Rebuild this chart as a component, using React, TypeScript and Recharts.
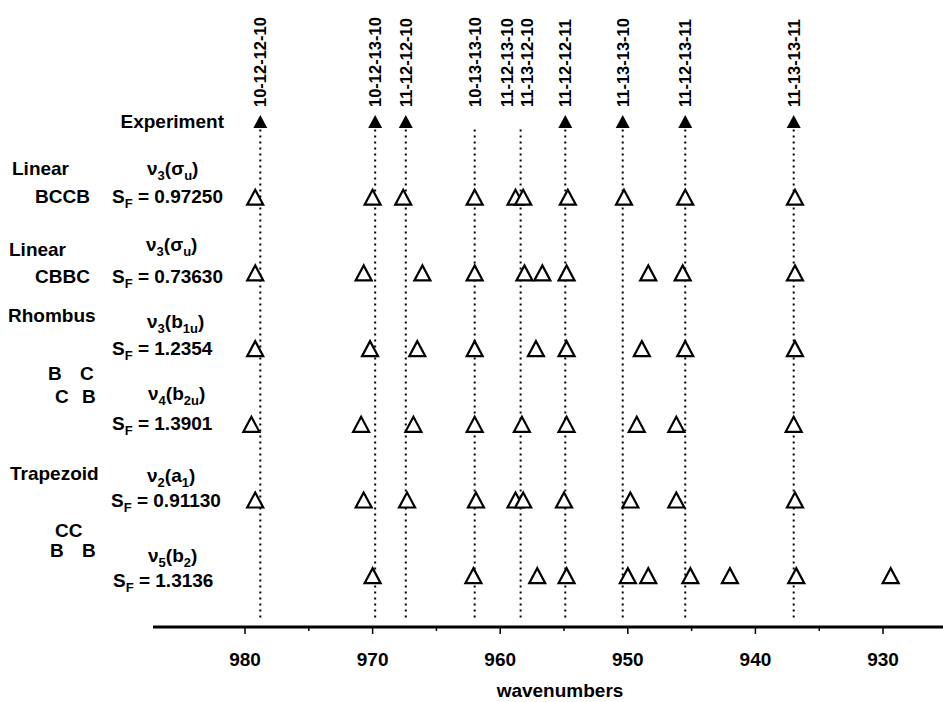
import { ReferenceLine, Scatter, ScatterChart, XAxis, YAxis } from "recharts";

const FONT = '"Liberation Sans", Arial, sans-serif';

// experiment assignments (top row)
const expLabels = [
  "10-12-12-10",
  "10-12-13-10",
  "11-12-12-10",
  "10-13-13-10",
  "11-12-13-10",
  "11-13-12-10",
  "11-12-12-11",
  "11-13-13-10",
  "11-12-13-11",
  "11-13-13-11",
];
const expWavenumbers = [978.8, 969.8, 967.4, 962.0, 959.5, 957.9, 954.9, 950.4, 945.5, 937.0];
const expObserved = [true, true, true, false, false, false, true, true, true, true];
const dottedWavenumbers = [978.8, 969.8, 967.4, 962.0, 958.4, 954.9, 950.4, 945.5, 937.0];

// calculated frequencies, one list per model
const bccbWn = [979.2, 970.0, 967.6, 962.0, 958.8, 958.2, 954.7, 950.3, 945.5, 936.9];
const cbbcWn = [979.2, 970.7, 966.1, 962.0, 958.1, 956.7, 954.8, 948.4, 945.7, 936.9];
const rhombusB1uWn = [979.2, 970.2, 966.5, 962.0, 957.2, 954.8, 948.9, 945.5, 936.9];
const rhombusB2uWn = [979.5, 970.9, 966.8, 962.0, 958.3, 954.8, 949.3, 946.2, 937.0];
const trapezoidA1Wn = [979.2, 970.7, 967.3, 961.9, 958.8, 958.2, 955.0, 949.8, 946.2, 936.9];
const trapezoidB2Wn = [970.0, 962.1, 957.1, 954.8, 950.0, 948.4, 945.1, 942.0, 936.8, 929.4];

const calcRows = [bccbWn, cbbcWn, rhombusB1uWn, rhombusB2uWn, trapezoidA1Wn, trapezoidB2Wn];

const xTicks = [980, 975, 970, 965, 960, 955, 950, 945, 940, 935, 930];

const EXP_ROW = 6;
const X_DOMAIN: [number, number] = [925.3, 987.21];
const Y_DOMAIN: [number, number] = [-0.671, 7.612];

const expData = expWavenumbers.map((x, i) => ({
  x,
  y: EXP_ROW,
  label: expLabels[i],
  observed: expObserved[i],
}));

const rowData = calcRows.map((row, i) => row.map((x) => ({ x, y: EXP_ROW - 1 - i })));

function HollowTriangle(props: any) {
  const { cx, cy } = props;
  if (cx == null || cy == null) return null;
  return (
    <polygon
      points={`${cx},${cy - 8} ${cx - 8},${cy + 7} ${cx + 8},${cy + 7}`}
      fill="#fff"
      stroke="#000"
      strokeWidth={2.2}
    />
  );
}

function ExpMarker(props: any) {
  const { cx, cy, payload } = props;
  if (cx == null || cy == null) return null;
  return (
    <g>
      {payload.observed && (
        <polygon points={`${cx},${cy - 7} ${cx - 7},${cy + 6} ${cx + 7},${cy + 6}`} fill="#000" />
      )}
      <text
        x={cx}
        y={cy - 15}
        transform={`rotate(-90 ${cx} ${cy - 15})`}
        dominantBaseline="central"
        fontFamily={FONT}
        fontWeight="bold"
        fontSize={16.5}
      >
        {payload.label}
      </text>
    </g>
  );
}

function WaveTick(props: any) {
  const { x, y, payload } = props;
  const major = payload.value % 10 === 0;
  return (
    <g>
      <line x1={x} x2={x} y1={y} y2={y + (major ? 7 : 4)} stroke="#000" strokeWidth={1.5} />
      {major && (
        <text x={x} y={y + 39} textAnchor="middle" fontFamily={FONT} fontWeight="bold" fontSize={19} fill="#000">
          {payload.value}
        </text>
      )}
    </g>
  );
}

type Part = [string, boolean];

function RichText({ x, y, parts }: { x: number; y: number; parts: Part[] }) {
  let shifted = false;
  return (
    <text x={x} y={y} fontFamily={FONT} fontWeight="bold" fontSize={19} fill="#000" style={{ whiteSpace: "pre" }}>
      {parts.map(([s, sub], i) => {
        const dy = sub && !shifted ? 5 : !sub && shifted ? -5 : 0;
        shifted = sub;
        return (
          <tspan key={i} dy={dy} fontSize={sub ? 13 : undefined}>
            {s}
          </tspan>
        );
      })}
    </text>
  );
}

const plainLabels: { x: number; y: number; text: string }[] = [
  { x: 12, y: 175, text: "Linear" },
  { x: 35, y: 203, text: "BCCB" },
  { x: 9, y: 256, text: "Linear" },
  { x: 35, y: 283, text: "CBBC" },
  { x: 8, y: 322, text: "Rhombus" },
  { x: 48, y: 380, text: "B" },
  { x: 80, y: 380, text: "C" },
  { x: 55, y: 403, text: "C" },
  { x: 82, y: 403, text: "B" },
  { x: 10, y: 480, text: "Trapezoid" },
  { x: 55, y: 537, text: "CC" },
  { x: 50, y: 557, text: "B" },
  { x: 82, y: 557, text: "B" },
];

const richLabels: { x: number; y: number; parts: Part[] }[] = [
  { x: 147, y: 175, parts: [["ν", false], ["3", true], ["(σ", false], ["u", true], [")", false]] },
  { x: 112, y: 203, parts: [["S", false], ["F", true], [" = 0.97250", false]] },
  { x: 146, y: 251, parts: [["ν", false], ["3", true], ["(σ", false], ["u", true], [")", false]] },
  { x: 112, y: 283, parts: [["S", false], ["F", true], [" = 0.73630", false]] },
  { x: 147, y: 328, parts: [["ν", false], ["3", true], ["(b", false], ["1u", true], [")", false]] },
  { x: 112, y: 355, parts: [["S", false], ["F", true], [" = 1.2354", false]] },
  { x: 148, y: 400, parts: [["ν", false], ["4", true], ["(b", false], ["2u", true], [")", false]] },
  { x: 112, y: 430, parts: [["S", false], ["F", true], [" = 1.3901", false]] },
  { x: 147, y: 482, parts: [["ν", false], ["2", true], ["(a", false], ["1", true], [")", false]] },
  { x: 111, y: 507, parts: [["S", false], ["F", true], [" = 0.91130", false]] },
  { x: 148, y: 562, parts: [["ν", false], ["5", true], ["(b", false], ["2", true], [")", false]] },
  { x: 113, y: 587, parts: [["S", false], ["F", true], [" = 1.3136", false]] },
];

export default function App() {
  return (
    <div style={{ position: "absolute", left: 0, top: 0, background: "#fff" }}>
      <ScatterChart width={943} height={702} margin={{ top: 0, right: 0, bottom: 0, left: 153 }}>
        <XAxis
          type="number"
          dataKey="x"
          domain={X_DOMAIN}
          reversed
          allowDataOverflow
          ticks={xTicks}
          interval={0}
          height={75}
          tickSize={0}
          tickMargin={0}
          tickLine={false}
          axisLine={{ stroke: "#000", strokeWidth: 3 }}
          tick={<WaveTick />}
        />
        <YAxis type="number" dataKey="y" domain={Y_DOMAIN} allowDataOverflow hide />
        {dottedWavenumbers.map((wn) => (
          <ReferenceLine
            key={wn}
            segment={[
              { x: wn, y: EXP_ROW - 0.1 },
              { x: wn, y: -0.58 },
            ]}
            stroke="#000"
            strokeWidth={2}
            strokeDasharray="2 4"
          />
        ))}
        {rowData.map((data, i) => (
          <Scatter key={i} data={data} shape={<HollowTriangle />} isAnimationActive={false} />
        ))}
        <Scatter data={expData} shape={<ExpMarker />} isAnimationActive={false} />
        <g>
          <text x={224} y={128} textAnchor="end" fontFamily={FONT} fontWeight="bold" fontSize={19}>
            Experiment
          </text>
          {plainLabels.map((l, i) => (
            <text key={i} x={l.x} y={l.y} fontFamily={FONT} fontWeight="bold" fontSize={19} fill="#000">
              {l.text}
            </text>
          ))}
          {richLabels.map((l, i) => (
            <RichText key={i} x={l.x} y={l.y} parts={l.parts} />
          ))}
          <text x={560} y={697} textAnchor="middle" fontFamily={FONT} fontWeight="bold" fontSize={19}>
            wavenumbers
          </text>
        </g>
      </ScatterChart>
    </div>
  );
}
